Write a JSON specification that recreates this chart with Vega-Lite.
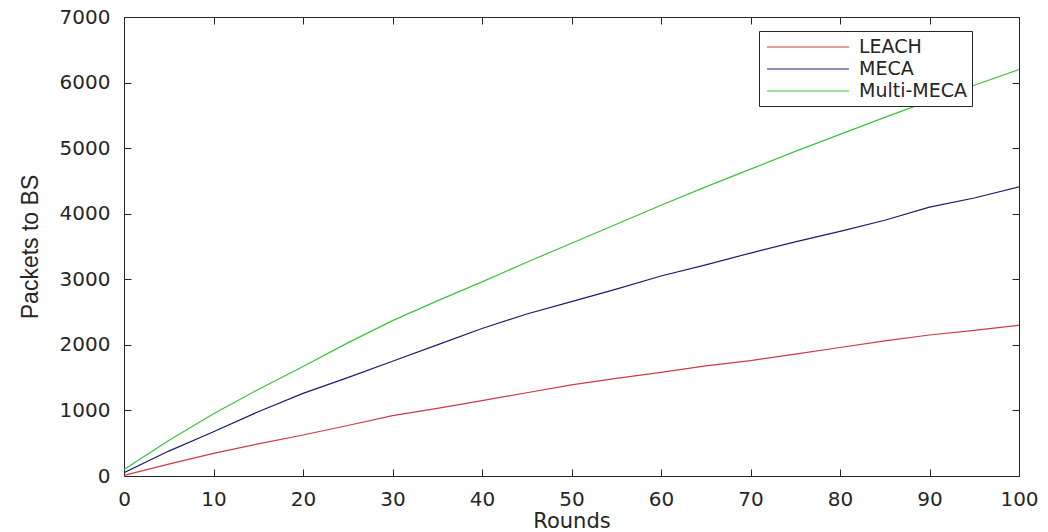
{
  "$schema": "https://vega.github.io/schema/vega-lite/v6.json",
  "autosize": {"type": "none"},
  "padding": {"left": 124, "top": 17, "right": 29, "bottom": 56},
  "width": 895,
  "height": 459,
  "background": "white",
  "config": {
    "view": {"stroke": "#262626", "strokeWidth": 1},
    "axis": {
      "grid": false,
      "domain": false,
      "tickColor": "#262626",
      "tickWidth": 1,
      "labelFlush": false,
      "labelFont": "DejaVu Sans",
      "labelFontSize": 20,
      "labelColor": "#262626",
      "titleFont": "DejaVu Sans",
      "titleFontWeight": "normal",
      "titleColor": "#262626"
    }
  },
  "data": {
    "values": [
      {"round": 0, "series": "LEACH", "packets": 10},
      {"round": 5, "series": "LEACH", "packets": 180},
      {"round": 10, "series": "LEACH", "packets": 345},
      {"round": 15, "series": "LEACH", "packets": 490},
      {"round": 20, "series": "LEACH", "packets": 625},
      {"round": 25, "series": "LEACH", "packets": 770},
      {"round": 30, "series": "LEACH", "packets": 920},
      {"round": 35, "series": "LEACH", "packets": 1030},
      {"round": 40, "series": "LEACH", "packets": 1150},
      {"round": 45, "series": "LEACH", "packets": 1270},
      {"round": 50, "series": "LEACH", "packets": 1390},
      {"round": 55, "series": "LEACH", "packets": 1490},
      {"round": 60, "series": "LEACH", "packets": 1580},
      {"round": 65, "series": "LEACH", "packets": 1680},
      {"round": 70, "series": "LEACH", "packets": 1760},
      {"round": 75, "series": "LEACH", "packets": 1860},
      {"round": 80, "series": "LEACH", "packets": 1960},
      {"round": 85, "series": "LEACH", "packets": 2060},
      {"round": 90, "series": "LEACH", "packets": 2150},
      {"round": 95, "series": "LEACH", "packets": 2220},
      {"round": 100, "series": "LEACH", "packets": 2300},
      {"round": 0, "series": "MECA", "packets": 50},
      {"round": 5, "series": "MECA", "packets": 380},
      {"round": 10, "series": "MECA", "packets": 675},
      {"round": 15, "series": "MECA", "packets": 980},
      {"round": 20, "series": "MECA", "packets": 1260},
      {"round": 25, "series": "MECA", "packets": 1500},
      {"round": 30, "series": "MECA", "packets": 1750},
      {"round": 35, "series": "MECA", "packets": 2000},
      {"round": 40, "series": "MECA", "packets": 2250},
      {"round": 45, "series": "MECA", "packets": 2470},
      {"round": 50, "series": "MECA", "packets": 2660},
      {"round": 55, "series": "MECA", "packets": 2850},
      {"round": 60, "series": "MECA", "packets": 3050},
      {"round": 65, "series": "MECA", "packets": 3220},
      {"round": 70, "series": "MECA", "packets": 3400},
      {"round": 75, "series": "MECA", "packets": 3570},
      {"round": 80, "series": "MECA", "packets": 3730},
      {"round": 85, "series": "MECA", "packets": 3900},
      {"round": 90, "series": "MECA", "packets": 4100},
      {"round": 95, "series": "MECA", "packets": 4240},
      {"round": 100, "series": "MECA", "packets": 4410},
      {"round": 0, "series": "Multi-MECA", "packets": 100},
      {"round": 5, "series": "Multi-MECA", "packets": 540},
      {"round": 10, "series": "Multi-MECA", "packets": 950},
      {"round": 15, "series": "Multi-MECA", "packets": 1320},
      {"round": 20, "series": "Multi-MECA", "packets": 1670},
      {"round": 25, "series": "Multi-MECA", "packets": 2030},
      {"round": 30, "series": "Multi-MECA", "packets": 2370},
      {"round": 35, "series": "Multi-MECA", "packets": 2670},
      {"round": 40, "series": "Multi-MECA", "packets": 2960},
      {"round": 45, "series": "Multi-MECA", "packets": 3260},
      {"round": 50, "series": "Multi-MECA", "packets": 3550},
      {"round": 55, "series": "Multi-MECA", "packets": 3840},
      {"round": 60, "series": "Multi-MECA", "packets": 4130},
      {"round": 65, "series": "Multi-MECA", "packets": 4410},
      {"round": 70, "series": "Multi-MECA", "packets": 4680},
      {"round": 75, "series": "Multi-MECA", "packets": 4950},
      {"round": 80, "series": "Multi-MECA", "packets": 5210},
      {"round": 85, "series": "Multi-MECA", "packets": 5470},
      {"round": 90, "series": "Multi-MECA", "packets": 5720},
      {"round": 95, "series": "Multi-MECA", "packets": 5960},
      {"round": 100, "series": "Multi-MECA", "packets": 6200}
    ]
  },
  "layer": [
    {
      "mark": {"type": "line", "strokeWidth": 1.2, "clip": true},
      "encoding": {
        "x": {
          "field": "round", "type": "quantitative",
          "scale": {"domain": [0, 100], "nice": false},
          "axis": {
            "orient": "bottom", "values": [0,10,20,30,40,50,60,70,80,90,100],
            "ticks": false,
            "title": "Rounds", "titleFontSize": 21,
            "labelPadding": 13,
            "titleX": 447.5, "titleY": 45, "titleBaseline": "middle"
          }
        },
        "y": {
          "field": "packets", "type": "quantitative",
          "scale": {"domain": [0, 7000], "nice": false},
          "axis": {
            "orient": "left", "values": [0,1000,2000,3000,4000,5000,6000,7000],
            "format": "d",
            "ticks": false,
            "title": "Packets to BS", "titleFont": "Liberation Sans", "titleFontSize": 23,
            "labelPadding": 14,
            "titleX": -94, "titleY": 229.5, "titleBaseline": "middle", "titleAngle": -90
          }
        },
        "color": {
          "field": "series", "type": "nominal",
          "scale": {"domain": ["LEACH", "MECA", "Multi-MECA"], "range": ["#cf3a44", "#1c1c6e", "#3ec23e"]},
          "legend": {
            "title": null,
            "orient": "none",
            "legendX": 635,
            "legendY": 14,
            "symbolType": "M-0.8,0H7.4",
            "symbolSize": 400,
            "symbolStrokeWidth": 1.2,
            "labelFont": "DejaVu Sans",
            "labelFontSize": 19,
            "labelColor": "#262626",
            "labelOffset": 73,
            "labelExpr": "datum.label + '\u00a0\u00a0\u00a0\u00a0'",
            "rowPadding": 1,
            "padding": 5,
            "fillColor": "white",
            "strokeColor": "#262626",
            "cornerRadius": 0
          }
        }
      }
    },
    {
      "mark": {"type": "line", "opacity": 0},
      "encoding": {
        "x": {
          "field": "round", "type": "quantitative",
          "axis": {"orient": "bottom", "offset": -7, "tickSize": 7, "values": [0,10,20,30,40,50,60,70,80,90,100], "labels": false, "title": null}
        },
        "y": {
          "field": "packets", "type": "quantitative",
          "axis": {"orient": "left", "offset": -7, "tickSize": 7, "values": [0,1000,2000,3000,4000,5000,6000,7000], "labels": false, "title": null}
        },
        "detail": {"field": "series", "type": "nominal"}
      }
    },
    {
      "mark": {"type": "line", "opacity": 0},
      "encoding": {
        "x": {
          "field": "round", "type": "quantitative",
          "axis": {"orient": "top", "offset": -7, "tickSize": 7, "values": [0,10,20,30,40,50,60,70,80,90,100], "labels": false, "title": null}
        },
        "y": {
          "field": "packets", "type": "quantitative",
          "axis": {"orient": "right", "offset": -7, "tickSize": 7, "values": [0,1000,2000,3000,4000,5000,6000,7000], "labels": false, "title": null}
        },
        "detail": {"field": "series", "type": "nominal"}
      }
    }
  ],
  "resolve": {"axis": {"x": "independent", "y": "independent"}}
}
